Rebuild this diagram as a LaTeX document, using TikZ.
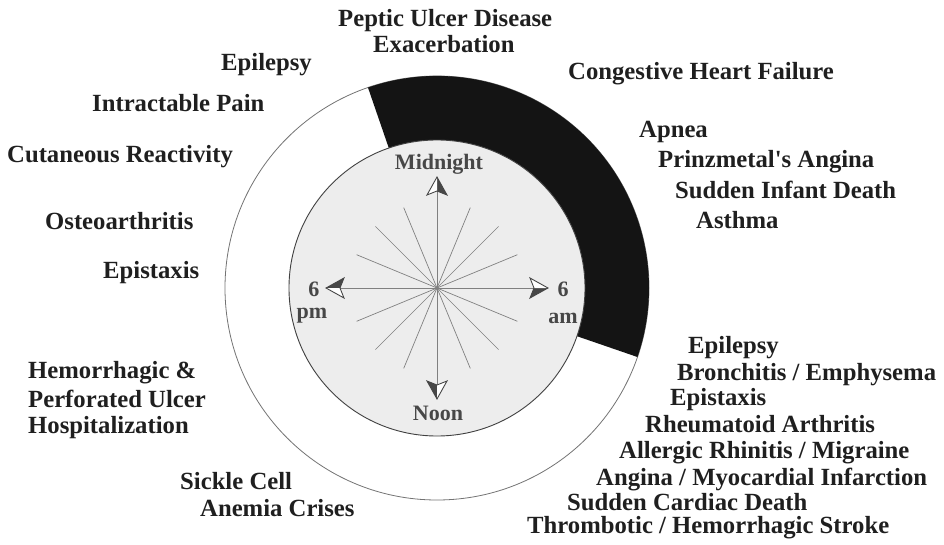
\documentclass[tikz,border=0pt]{standalone}
\usepackage{fontspec}
\setmainfont{Liberation Serif}
\begin{document}
\begin{tikzpicture}[x=1pt,y=1pt,
  lbl/.style={anchor=base west, inner sep=0pt, text=black!88, font=\fontsize{24.7}{26}\selectfont\bfseries},
  clk/.style={anchor=base, inner sep=0pt, text=black!72, font=\fontsize{22}{24}\selectfont\bfseries},
  spoke/.style={draw=black!50, line width=0.7pt},
  arrowdark/.style={fill=black!72},
  arrowline/.style={draw=black!72, line width=0.9pt, line join=miter}]
\useasboundingbox (-437,-256) rectangle (507,288);
% outer ring and black band
\coordinate (c) at (0,0);
\draw[black!55, line width=0.8pt] (c) circle (212);
\fill[black!92] (109:212) arc[start angle=109, end angle=-19, radius=212]
   -- (-19:148) arc[start angle=-19, end angle=109, radius=148] -- cycle;
% inner dial
\filldraw[fill=black!7, draw=black!75, line width=0.9pt] (c) circle (148);
% spokes
\foreach \a in {22.5,45,67.5,112.5,135,157.5,202.5,225,247.5,292.5,315,337.5}
  \draw[spoke] (c) -- (\a:87);
% axis arrows
\foreach \a in {0,90,180,270}{
  \begin{scope}[rotate=\a]
    \draw[spoke] (c) -- (97,0);
    \fill[arrowdark] (111,0) -- (93,-10) -- (97,0) -- cycle;
    \fill[white] (111,0) -- (93,10) -- (97,0) -- cycle;
    \draw[arrowline] (111,0) -- (93,10) -- (97,0) -- (93,-10) -- cycle;
  \end{scope}}
% clock labels
\node[clk] (mid) at (2,119) {Midnight};
\node[clk] (noon) at (1,-132) {Noon};
\node[clk] (sixl) at (-123,-8) {6};
\node[clk] (pm) at (-125,-30) {pm};
\node[clk] (sixr) at (126,-8) {6};
\node[clk] (am) at (126,-35) {am};
% condition labels
\node[lbl] (pud) at (-99,261) {Peptic Ulcer Disease};
\node[lbl] (exa) at (-64,235) {Exacerbation};
\node[lbl] (chf) at (131,208) {Congestive Heart Failure};
\node[lbl] (apn) at (202,151) {Apnea};
\node[lbl] (pri) at (221,121) {Prinzmetal\textquotesingle s Angina};
\node[lbl] (sid) at (238,90) {Sudden Infant Death};
\node[lbl] (ast) at (259,60) {Asthma};
\node[lbl] (epi1) at (-216,217) {Epilepsy};
\node[lbl] (ip) at (-345,176) {Intractable Pain};
\node[lbl] (cr) at (-430,126) {Cutaneous Reactivity};
\node[lbl] (oa) at (-392,59) {Osteoarthritis};
\node[lbl] (ep1) at (-334,10) {Epistaxis};
\node[lbl] (hem) at (-409,-90) {Hemorrhagic \&};
\node[lbl] (per) at (-409,-119) {Perforated Ulcer};
\node[lbl] (hos) at (-409,-145) {Hospitalization};
\node[lbl] (sc) at (-257,-201) {Sickle Cell};
\node[lbl] (ac) at (-237,-228) {Anemia Crises};
\node[lbl] (epi2) at (251,-65) {Epilepsy};
\node[lbl] (bro) at (240,-92) {Bronchitis / Emphysema};
\node[lbl] (ep2) at (233,-117) {Epistaxis};
\node[lbl] (rha) at (208,-144) {Rheumatoid Arthritis};
\node[lbl] (arm) at (182,-170) {Allergic Rhinitis / Migraine};
\node[lbl] (ami) at (159,-197) {Angina / Myocardial Infarction};
\node[lbl] (scd) at (130,-222) {Sudden Cardiac Death};
\node[lbl] (ths) at (90,-245) {Thrombotic / Hemorrhagic Stroke};
\end{tikzpicture}
\end{document}
